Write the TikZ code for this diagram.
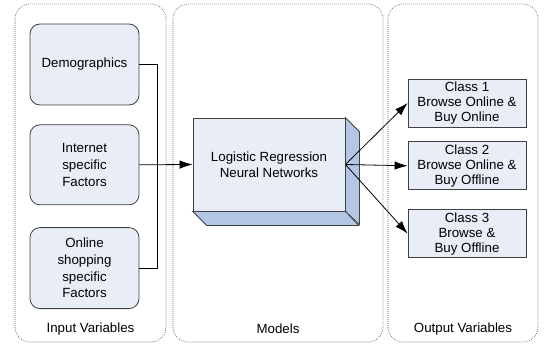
\documentclass[tikz,border=0pt]{standalone}
\usepackage{fontspec}
\setmainfont{Liberation Sans}
\usetikzlibrary{positioning,arrows.meta}

\definecolor{boxfill}{HTML}{E8EDF7}
\definecolor{sidefill}{HTML}{B3C6E4}
\definecolor{boxline}{HTML}{404040}

\tikzset{
    panel/.style={draw=black!60, line width=0.7pt,
        dash pattern=on 0.8pt off 1.2pt, rounded corners=15pt},
    inbox/.style={draw=boxline, fill=boxfill, line width=0.8pt,
        rounded corners=10pt, minimum width=109pt, minimum height=81pt,
        align=center, font=\fontsize{13.3}{16.7}\selectfont, inner sep=2pt},
    clsbox/.style={draw=boxline, fill=boxfill, line width=0.8pt,
        minimum width=118pt, minimum height=48pt, align=center,
        font=\fontsize{13.3}{15}\selectfont, inner sep=1pt},
    paneltext/.style={font=\fontsize{13.3}{16}\selectfont},
    link/.style={draw=black, line width=0.8pt},
    tip/.style={-{Latex[length=13pt,width=8.5pt]}}
}

\begin{document}
\begin{tikzpicture}[x=1pt,y=-1pt]
    \useasboundingbox (0,0) rectangle (544,345);

    % the three columns
    \draw[panel] (15,4) rectangle (166,342);
    \draw[panel] (173,4) rectangle (383,342);
    \draw[panel] (388,4) rectangle (538,342);

    \node[paneltext] (inlab) at (90.5,329) {Input Variables};
    \node[paneltext] (modlab) at (278,329) {Models};
    \node[paneltext] (outlab) at (463,329) {Output Variables};

    % input variables
    \node[inbox] (demo) at (84.5,64.5) {Demographics};
    \node[inbox, minimum height=80pt] (inet) [below = 19pt of demo] {Internet\\specific\\Factors};
    \node[inbox] (shop) [below = 22pt of inet] {Online\\shopping\\specific\\Factors};

    % models
    \node[draw=boxline, fill=boxfill, line width=0.8pt, minimum width=152pt,
        minimum height=93pt, align=center,
        font=\fontsize{13.3}{16}\selectfont] (model) at (269,164.5)
        {Logistic Regression\\Neural Networks};
    \draw[draw=boxline, fill=sidefill, line width=0.8pt]
        (model.north east) -- ++(14,14) -- ++(0,93) -- (model.south east) -- cycle;
    \draw[draw=boxline, fill=sidefill, line width=0.8pt]
        (model.south west) -- ++(14,14) -- ++(152,0) -- (model.south east) -- cycle;

    % output variables
    \node[clsbox] (c1) at (467,103) {Class 1\\Browse Online \&\\Buy Online};
    \node[clsbox] (c2) [below = 14pt of c1] {Class 2\\Browse Online \&\\Buy Offline};
    \node[clsbox] (c3) [below = 19pt of c2] {Class 3\\Browse \&\\Buy Offline};

    % connectors
    \draw[link] (demo.east) -- ++(17.5,0) |- (shop.east);
    \draw[link, tip] (inet.east) -- (model.west);
    \draw[link, tip] (model.east) -- (c1.west);
    \draw[link, tip] (model.east) -- (c2.west);
    \draw[link, tip] (model.east) -- (c3.west);
\end{tikzpicture}
\end{document}
